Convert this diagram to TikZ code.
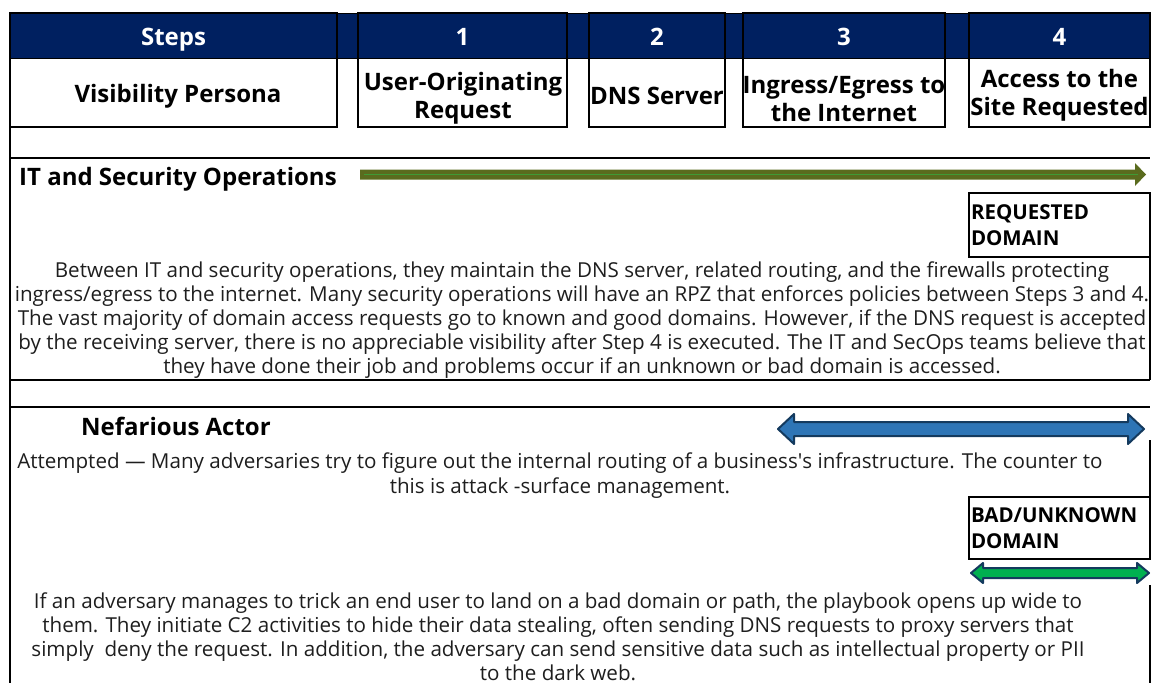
\documentclass[tikz,border=0pt]{standalone}
\usepackage{fontspec}
\setmainfont{Open Sans}
\definecolor{navy}{HTML}{002060}
\definecolor{olivegr}{HTML}{5A6B1E}
\definecolor{midgreen}{HTML}{3F9A35}
\definecolor{arrblue}{HTML}{2E75B6}
\definecolor{arrgreen}{HTML}{00B050}
\definecolor{arredge}{HTML}{143A5E}
\definecolor{bodytxt}{HTML}{1E1E1E}
\tikzset{
  band/.style={rectangle, fill=navy, draw=black, line width=0.8pt, inner sep=0},
  stepcol/.style={rectangle, draw=black, line width=1.4pt, minimum height=114pt, inner sep=0},
  stepnum/.style={anchor=base, text=white, font=\fontsize{24}{28}\selectfont\bfseries, inner sep=0},
  steplbl/.style={align=center, font=\fontsize{24}{28}\selectfont\bfseries, inner sep=0},
  persona/.style={anchor=base west, font=\fontsize{24}{28}\selectfont\bfseries, inner sep=0},
  para/.style={align=center, text=bodytxt, font=\fontsize{20.6}{24}\selectfont, inner sep=0},
  tagbox/.style={rectangle, draw=black, line width=1.4pt, minimum width=181pt, minimum height=64pt,
                 text width=177pt, align=left, inner sep=1pt, font=\fontsize{20.5}{25.5}\selectfont\bfseries},
  frame/.style={draw=black, line width=1.4pt},
  dblarr/.style={line width=2pt, draw=arredge, line join=round},
}
\begin{document}
\begin{tikzpicture}[x=1pt, y=-1pt]
\useasboundingbox (0,0) rectangle (1152,683);

% header band and step columns
\node[band, minimum width=1140pt, minimum height=45pt] (band) at (580,35.5) {};
\node[stepcol, minimum width=327pt] (col0) at (173.5,70) {};
\node[stepcol, minimum width=209pt] (col1) at (462.5,70) {};
\node[stepcol, minimum width=136pt] (col2) at (657,70) {};
\node[stepcol, minimum width=202pt] (col3) at (844,70) {};
\node[stepcol, minimum width=181pt] (col4) at (1059.5,70) {};

\node[stepnum] (h0) at (173.5,45.5) {Steps};
\node[stepnum] (h1) at (462.5,45.5) {1};
\node[stepnum] (h2) at (657,45.5) {2};
\node[stepnum] (h3) at (844,45.5) {3};
\node[stepnum] (h4) at (1059.5,45.5) {4};

\node[steplbl] (l0) at (178,96) {Visibility Persona};
\node[steplbl] (l1) at (463,98.5) {User-Originating\\Request};
\node[steplbl] (l2) at (657,95.5) {DNS Server};
\node[steplbl] (l3) at (844,99) {Ingress/Egress to\\the Internet};
\node[steplbl] (l4) at (1059.5,95.5) {Access to the\\Site Requested};

% frame lines
\draw[frame] (10,13) -- (10,683);
\draw[frame] (10,158) -- (1150,158);
\draw[frame] (1150,258) -- (1150,380);
\draw[frame] (10,380) -- (1150,380);
\draw[frame] (10,407) -- (1150,407);
\draw[frame] (1150,440) -- (1150,497);
\draw[frame] (1150,585) -- (1150,683);

% IT and security operations
\node[persona] (itsec) at (19,185) {IT and Security Operations};
\fill[olivegr] (360,169.5) -- (1135,169.5) -- (1135,163) -- (1146,174.5) -- (1135,186) -- (1135,179.5) -- (360,179.5) -- cycle;
\draw[midgreen, line width=1pt] (364,174.5) -- (1138,174.5);
\node[tagbox] (reqdom) at (1059.5,225) {REQUESTED\\DOMAIN};
\node[para] (itpara) at (582,320) {Between IT and security operations, they maintain the DNS server, related routing, and the firewalls protecting\\
ingress/egress to the internet. Many security operations will have an RPZ that enforces policies between Steps 3 and 4.\\
The vast majority of domain access requests go to known and good domains. However, if the DNS request is accepted\\
by the receiving server, there is no appreciable visibility after Step 4 is executed. The IT and SecOps teams believe that\\
they have done their job and problems occur if an unknown or bad domain is accessed.};

% nefarious actor
\node[steplbl] (nefar) at (176,426) {Nefarious Actor};
\filldraw[dblarr, fill=arrblue] (778,429) -- (794,414) -- (794,422) -- (1128,422) -- (1128,414) -- (1144,429)
  -- (1128,444) -- (1128,436) -- (794,436) -- (794,444) -- cycle;
\node[para, font=\fontsize{20.6}{25}\selectfont] (attempt) at (560,475.5) {Attempted — Many adversaries try to figure out the internal routing of a business\textquotesingle s infrastructure. The counter to\\
this is attack -surface management.};
\node[tagbox, minimum height=62pt] (baddom) at (1059.5,528) {BAD/UNKNOWN\\DOMAIN};
\filldraw[dblarr, fill=arrgreen] (971,573) -- (983,563) -- (983,568) -- (1137,568) -- (1137,563) -- (1149,573)
  -- (1137,583) -- (1137,578) -- (983,578) -- (983,583) -- cycle;
\node[para] (c2para) at (558,636.5) {If an adversary manages to trick an end user to land on a bad domain or path, the playbook opens up wide to\\
them. They initiate C2 activities to hide their data stealing, often sending DNS requests to proxy servers that\\
simply\ \ deny the request. In addition, the adversary can send sensitive data such as intellectual property or PII\\
to the dark web.};
\end{tikzpicture}
\end{document}
